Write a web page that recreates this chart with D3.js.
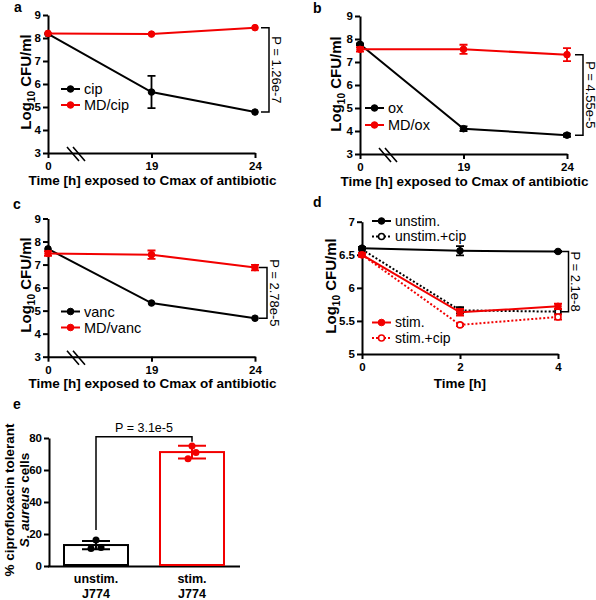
<!DOCTYPE html>
<html><head><meta charset="utf-8">
<script src="https://cdn.jsdelivr.net/npm/d3@7"></script>
<style>body{margin:0;background:#fff}svg{display:block}text{font-family:"Liberation Sans",Arial,Helvetica,sans-serif}</style>
</head><body><svg width="596" height="600"></svg>
<script>
// ---------- DATA ----------
const timeLabels = ["0", "19", "24"];
const yTicksABC = [3, 4, 5, 6, 7, 8, 9];
// panel a
const cipMean = [8.18, 5.65, 4.78], cipErr = [0, 0.7, 0];
const mdCipMean = [8.2, 8.17, 8.45], mdCipErr = [0, 0, 0];
// panel b
const oxMean = [7.77, 4.1, 3.82], oxErr = [0.04, 0.1, 0.07];
const mdOxMean = [7.55, 7.55, 7.32], mdOxErr = [0.1, 0.2, 0.28];
// panel c
const vancMean = [7.68, 5.33, 4.67], vancErr = [0, 0, 0];
const mdVancMean = [7.48, 7.43, 6.87], mdVancErr = [0.1, 0.18, 0.12];
const pA = "P = 1.26e-7", pB = "P = 4.55e-5", pC = "P = 2.78e-5";
// panel d
const timeD = [0, 2, 4];
const yTicksD = [5, 5.5, 6, 6.5, 7];
const unstimMean = [6.6, 6.56, 6.55], unstimErr = [0.02, 0.07, 0.01];
const unstimCipMean = [6.58, 5.66, 5.64], unstimCipErr = [0, 0.05, 0.04];
const stimMean = [6.5, 5.63, 5.72], stimErr = [0.03, 0.05, 0.04];
const stimCipMean = [6.5, 5.44, 5.56], stimCipErr = [0, 0.02, 0.04];
const pD = "P = 2.1e-8";
// panel e
const eGroups = ["unstim.", "stim."];
const eSub = ["J774", "J774"];
const eMean = [13.1, 71.2], eSD = [2.6, 4.0];
const ePoints = [[16.2, 11, 11.5], [75, 71, 67]];
const eTicks = [0, 20, 40, 60, 80];
const pE = "P = 3.1e-5";

// ---------- STYLE ----------
const RED = "#f20000", BLK = "#000";
const svg = d3.select("svg");

function styleAxis(g) {
  g.select(".domain").attr("stroke", BLK).attr("stroke-width", 2);
  g.selectAll(".tick line").attr("stroke", BLK).attr("stroke-width", 2);
  g.selectAll(".tick text").attr("fill", BLK).attr("font-size", 11.5).attr("font-weight", "bold")
    .attr("font-family", '"Liberation Sans",Arial,sans-serif');
}

function yTitle(x, cy) {
  const t = svg.append("text").attr("transform", `translate(${x},${cy}) rotate(-90)`)
    .attr("text-anchor", "middle").attr("font-size", 15).attr("font-weight", "bold");
  t.append("tspan").text("Log");
  t.append("tspan").attr("font-size", 10).attr("dy", 4).text("10");
  t.append("tspan").attr("dy", -4).text(" CFU/ml");
}

function panelLabel(x, y, s) {
  svg.append("text").attr("x", x).attr("y", y).attr("font-size", 14).attr("font-weight", "bold").text(s);
}

function drawSeries(x, y, xs, s) {
  const g = svg.append("g");
  const pts = s.vals.map((v, i) => [x(xs[i]), y(v)]);
  g.append("path").attr("d", d3.line()(pts)).attr("fill", "none").attr("stroke", s.color)
    .attr("stroke-width", 2).attr("stroke-dasharray", s.dash ? "2,2" : null);
  s.vals.forEach((v, i) => {
    const e = s.err[i];
    if (e > 0) {
      const cx = x(xs[i]);
      g.append("path").attr("d", `M${cx},${y(v - e)}V${y(v + e)}M${cx - 4},${y(v - e)}H${cx + 4}M${cx - 4},${y(v + e)}H${cx + 4}`)
        .attr("stroke", s.color).attr("stroke-width", 1.8).attr("fill", "none");
    }
  });
  g.selectAll("circle").data(pts).enter().append("circle")
    .attr("cx", d => d[0]).attr("cy", d => d[1]).attr("r", s.open ? 3 : 3.3)
    .attr("fill", s.open ? "#fff" : s.color).attr("stroke", s.color).attr("stroke-width", s.open ? 1.6 : 1);
}

function legendItem(x0, y0, s, name, fs) {
  svg.append("line").attr("x1", x0).attr("x2", x0 + 19).attr("y1", y0).attr("y2", y0)
    .attr("stroke", s.color).attr("stroke-width", 2).attr("stroke-dasharray", s.dash ? "2,2" : null);
  svg.append("circle").attr("cx", x0 + 9.5).attr("cy", y0).attr("r", s.open ? 3 : 3.3)
    .attr("fill", s.open ? "#fff" : s.color).attr("stroke", s.color).attr("stroke-width", s.open ? 1.6 : 1);
  svg.append("text").attr("x", x0 + 23).attr("y", y0).attr("dy", "0.35em").attr("font-size", fs).text(name);
}

function bracket(bx, yTop, yBot, label, fs) {
  svg.append("path").attr("d", `M${bx - 8},${yTop}H${bx}V${yBot}H${bx - 8}`)
    .attr("fill", "none").attr("stroke", BLK).attr("stroke-width", 1.5);
  svg.append("text").attr("transform", `translate(${bx + 2.5},${(yTop + yBot) / 2}) rotate(90)`)
    .attr("text-anchor", "middle").attr("font-size", fs).text(label);
}

// ---------- PANELS a, b, c ----------
function abcPanel(cfg) {
  const x = d3.scalePoint().domain(timeLabels).range([cfg.x0, cfg.x1]);
  const y = d3.scaleLinear().domain([3, 9]).range([cfg.yb, cfg.yt]);
  const gx = svg.append("g").attr("transform", `translate(0,${cfg.yb})`)
    .call(d3.axisBottom(x).tickSize(5).tickSizeOuter(0).tickPadding(4));
  styleAxis(gx);
  const gy = svg.append("g").attr("transform", `translate(${cfg.x0},0)`)
    .call(d3.axisLeft(y).tickValues(yTicksABC).tickSize(5).tickSizeOuter(0).tickPadding(2).tickFormat(d3.format("d")));
  styleAxis(gy);
  // axis break marks
  const bxm = cfg.x0 + 24;
  svg.append("path").attr("d", `M${bxm - 5},${cfg.yb - 6}L${bxm + 7},${cfg.yb + 8}M${bxm + 1},${cfg.yb - 6}L${bxm + 13},${cfg.yb + 8}`)
    .attr("stroke", BLK).attr("stroke-width", 1.6);
  svg.append("text").attr("x", (cfg.x0 + cfg.x1) / 2 + 1).attr("y", cfg.yb + 31.5).attr("text-anchor", "middle")
    .attr("font-size", 13.5).attr("font-weight", "bold").text("Time [h] exposed to Cmax of antibiotic");
  cfg.series.forEach(s => drawSeries(x, y, timeLabels, s));
  cfg.series.forEach((s, i) => legendItem(cfg.lx, cfg.ly[i], s, s.name, 14.5));
  const last = timeLabels.length - 1;
  bracket(cfg.bx, y(cfg.series[1].vals[last]), y(cfg.series[0].vals[last]), cfg.p, 13);
  yTitle(cfg.tx, cfg.tcy);
}

abcPanel({x0: 48, x1: 255, yt: 15, yb: 153, lx: 61, ly: [89, 105], bx: 269, p: pA, tx: 31, tcy: 82,
  series: [{name: "cip", vals: cipMean, err: cipErr, color: BLK}, {name: "MD/cip", vals: mdCipMean, err: mdCipErr, color: RED}]});
abcPanel({x0: 360, x1: 567, yt: 16, yb: 154, lx: 365, ly: [108, 125], bx: 583, p: pB, tx: 341, tcy: 84,
  series: [{name: "ox", vals: oxMean, err: oxErr, color: BLK}, {name: "MD/ox", vals: mdOxMean, err: mdOxErr, color: RED}]});
abcPanel({x0: 48, x1: 255, yt: 218.5, yb: 356.7, lx: 61, ly: [311.5, 327.5], bx: 267, p: pC, tx: 31, tcy: 285,
  series: [{name: "vanc", vals: vancMean, err: vancErr, color: BLK}, {name: "MD/vanc", vals: mdVancMean, err: mdVancErr, color: RED}]});

// ---------- PANEL d ----------
(function () {
  const x = d3.scaleLinear().domain([0, 4]).range([362, 558]);
  const y = d3.scaleLinear().domain([5, 7]).range([354, 221.7]);
  const gx = svg.append("g").attr("transform", "translate(0,354)")
    .call(d3.axisBottom(x).tickValues(timeD).tickSize(5).tickSizeOuter(0).tickPadding(4).tickFormat(d3.format("d")));
  styleAxis(gx);
  const gy = svg.append("g").attr("transform", "translate(362,0)")
    .call(d3.axisLeft(y).tickValues(yTicksD).tickSize(5).tickSizeOuter(0).tickPadding(2).tickFormat(d => String(d)));
  styleAxis(gy);
  svg.append("text").attr("x", 460).attr("y", 388).attr("text-anchor", "middle")
    .attr("font-size", 13.5).attr("font-weight", "bold").text("Time [h]");
  const series = [
    {name: "unstim.", vals: unstimMean, err: unstimErr, color: BLK},
    {name: "unstim.+cip", vals: unstimCipMean, err: unstimCipErr, color: BLK, dash: true, open: true},
    {name: "stim.", vals: stimMean, err: stimErr, color: RED},
    {name: "stim.+cip", vals: stimCipMean, err: stimCipErr, color: RED, dash: true, open: true}
  ];
  [1, 3, 0, 2].forEach(i => drawSeries(x, y, timeD, series[i]));
  const ly = [221, 236.5, 322.5, 338];
  series.forEach((s, i) => legendItem(372, ly[i], s, s.name, 14));
  bracket(568.5, y(unstimMean[2]), y(unstimCipMean[2]), pD, 13);
  yTitle(336, 286);
})();

// ---------- PANEL e ----------
(function () {
  const x = d3.scaleBand().domain(eGroups).range([48, 240]).paddingInner(1 / 3).paddingOuter(1 / 6);
  const y = d3.scaleLinear().domain([0, 80]).range([566, 438]);
  const colors = [BLK, RED];
  const jitter = [[0, -5, 5], [0, 4, -4]];
  const gx = svg.append("g").attr("transform", "translate(0,566)")
    .call(d3.axisBottom(x).tickSize(0).tickSizeOuter(0).tickFormat(() => ""));
  styleAxis(gx);
  gx.select(".domain").attr("d", "M48,0.5H240");
  const gy = svg.append("g").attr("transform", "translate(49,0)")
    .call(d3.axisLeft(y).tickValues(eTicks).tickSize(5).tickSizeOuter(0).tickPadding(2));
  styleAxis(gy);
  eGroups.forEach((gname, i) => {
    const cx = x(gname) + x.bandwidth() / 2;
    svg.append("rect").attr("x", x(gname)).attr("y", y(eMean[i])).attr("width", x.bandwidth())
      .attr("height", y(0) - y(eMean[i]) - 1).attr("fill", "#fff").attr("stroke", colors[i]).attr("stroke-width", 2);
    const lo = y(eMean[i] - eSD[i]), hi = y(eMean[i] + eSD[i]);
    svg.append("path").attr("d", `M${cx},${lo}V${hi}M${cx - 14},${lo}H${cx + 14}M${cx - 14},${hi}H${cx + 14}`)
      .attr("stroke", colors[i]).attr("stroke-width", 2).attr("fill", "none");
    ePoints[i].forEach((v, j) => {
      svg.append("circle").attr("cx", cx + jitter[i][j]).attr("cy", y(v)).attr("r", 3.5).attr("fill", colors[i]);
    });
    svg.append("text").attr("x", cx).attr("y", 583).attr("text-anchor", "middle").attr("font-size", 12.5)
      .attr("font-weight", "bold").text(gname);
    svg.append("text").attr("x", cx).attr("y", 597.5).attr("text-anchor", "middle").attr("font-size", 12.5)
      .attr("font-weight", "bold").text(eSub[i]);
  });
  const c0 = x(eGroups[0]) + x.bandwidth() / 2, c1 = x(eGroups[1]) + x.bandwidth() / 2;
  const top = y(80) - 1.3;
  svg.append("path").attr("d", `M${c0},${y(d3.max(ePoints[0])) - 10}V${top}H${c1}V${y(eMean[1] + eSD[1]) - 4}`)
    .attr("fill", "none").attr("stroke", BLK).attr("stroke-width", 1.5);
  svg.append("text").attr("x", (c0 + c1) / 2).attr("y", top - 4.5).attr("text-anchor", "middle")
    .attr("font-size", 12.5).text(pE);
  svg.append("text").attr("transform", "translate(14,500) rotate(-90)").attr("text-anchor", "middle")
    .attr("font-size", 13.5).attr("font-weight", "bold").text("% ciprofloxacin tolerant");
  const t2 = svg.append("text").attr("transform", "translate(28.5,500) rotate(-90)").attr("text-anchor", "middle")
    .attr("font-size", 13.5).attr("font-weight", "bold");
  t2.append("tspan").attr("font-style", "italic").text("S. aureus");
  t2.append("tspan").text(" cells");
})();

panelLabel(14, 12, "a");
panelLabel(313, 12.5, "b");
panelLabel(13, 208.5, "c");
panelLabel(313, 207, "d");
panelLabel(13, 408.5, "e");
</script>
</body></html>
